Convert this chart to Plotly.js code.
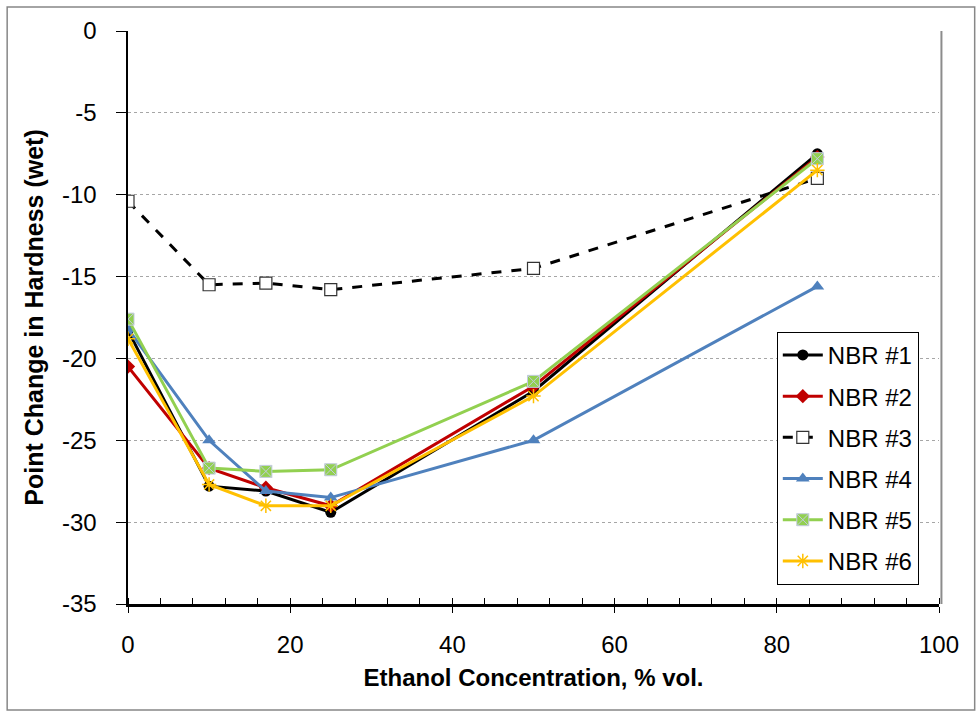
<!DOCTYPE html>
<html>
<head>
<meta charset="utf-8">
<script src="https://cdn.plot.ly/plotly-3.0.1.min.js"></script>
<style>html,body{margin:0;padding:0;background:#fff;}#chart{width:980px;height:713px;}</style>
</head>
<body>
<div id="chart"></div>
<script>
var ethanol = [0, 10, 17, 25, 50, 85];
var nbr1 = [-18.3, -27.8, -28.1, -29.4, -22.0, -7.5];
var nbr2 = [-20.5, -26.7, -27.9, -29.0, -21.7, -7.7];
var nbr3 = [-10.4, -15.5, -15.4, -15.8, -14.5, -9.0];
var nbr4 = [-18.2, -25.0, -28.1, -28.5, -25.0, -15.6];
var nbr5 = [-17.6, -26.7, -26.9, -26.8, -21.4, -7.8];
var nbr6 = [-18.8, -27.7, -29.0, -29.0, -22.3, -8.5];
var seriesNames = ['NBR #1', 'NBR #2', 'NBR #3', 'NBR #4', 'NBR #5', 'NBR #6'];
var yTickVals = [0, -5, -10, -15, -20, -25, -30, -35];
var yTickText = ['0', '-5', '-10', '-15', '-20', '-25', '-30', '-35'];
var xTitle = 'Ethanol Concentration, % vol.';
var yTitle = 'Point Change in Hardness (wet)';

var FONT = 'Liberation Sans Narrow, Arial Narrow, Liberation Sans, Arial, sans-serif';

function tr(y, name, lineStyle, marker, g) {
  return {x: ethanol, y: y, name: name, type: 'scatter', mode: 'lines+markers',
          line: lineStyle, marker: marker, legendgroup: g};
}
var data = [
  tr(nbr1, seriesNames[0], {color: '#000000', width: 3}, {symbol: 'circle', size: 11, color: '#000000'}, 'g1'),
  tr(nbr2, seriesNames[1], {color: '#C00000', width: 3}, {symbol: 'diamond', size: 11, color: '#C00000'}, 'g2'),
  tr(nbr3, seriesNames[2], {color: '#000000', width: 3, dash: '10px,10px'}, {symbol: 'square', size: 12, color: '#ffffff', line: {color: '#333333', width: 1.2}}, 'g3'),
  tr(nbr4, seriesNames[3], {color: '#4F81BD', width: 3}, {symbol: 'triangle-up', size: 12, color: '#4F81BD'}, 'g4'),
  tr(nbr5, seriesNames[4], {color: '#92D050', width: 3}, {symbol: 'square-x', size: 12, color: '#92D050', line: {color: '#c3cbe0', width: 1}}, 'g5'),
  tr(nbr6, seriesNames[5], {color: '#FFC000', width: 3}, {symbol: 'asterisk-open', size: 12, color: '#FFC000', line: {color: '#FFC000', width: 1.5}}, 'g6')
];

var layout = {
  width: 980, height: 713,
  margin: {l: 128, r: 41, t: 31, b: 109},
  paper_bgcolor: '#ffffff', plot_bgcolor: '#ffffff',
  font: {family: FONT, size: 23, color: '#000000'},
  showlegend: true,
  legend: {x: 0.8, y: 0.475, xanchor: 'left', yanchor: 'top', bgcolor: '#ffffff',
           bordercolor: '#000000', borderwidth: 1, font: {family: FONT, size: 24, color: '#000'},
           itemwidth: 40, traceorder: 'grouped', tracegroupgap: 7},
  xaxis: {
    range: [0, 100], dtick: 20, tick0: 0, showgrid: false, zeroline: false,
    showline: true, linecolor: '#000000', linewidth: 2.5,
    ticks: 'outside', ticklen: 6, tickcolor: '#000', tickwidth: 1,
    minor: {ticks: 'inside', dtick: 4, ticklen: 6, tickcolor: '#000', tickwidth: 1, showgrid: false},
    ticklabelstandoff: 12,
    tickfont: {family: FONT, size: 24},
    title: {text: '<b>' + xTitle + '</b>', font: {family: FONT, size: 24}, standoff: 12}
  },
  yaxis: {
    range: [-35, 0], tickmode: 'array', tickvals: yTickVals, ticktext: yTickText,
    showgrid: true, gridcolor: '#a6a6a6', gridwidth: 1, griddash: 'dot',
    zeroline: false, showline: true, linecolor: '#000000', linewidth: 2.5,
    ticks: 'outside', ticklen: 10, tickcolor: '#000', tickwidth: 1,
    ticklabelstandoff: 14,
    tickfont: {family: FONT, size: 24},
    title: {text: '<b>' + yTitle + '</b>', font: {family: FONT, size: 25}, standoff: 12}
  },
  shapes: [
    {type: 'line', xref: 'paper', yref: 'paper', x0: 1.003, x1: 1.003, y0: 0, y1: 1, line: {color: '#8c8c8c', width: 2}},
    {type: 'rect', xref: 'paper', yref: 'paper', x0: -0.149, x1: 1.044, y0: -0.185, y1: 1.042, line: {color: '#878787', width: 1.5}, fillcolor: 'rgba(0,0,0,0)'}
  ]
};

Plotly.newPlot('chart', data, layout, {displayModeBar: false, staticPlot: true});
</script>
</body>
</html>
